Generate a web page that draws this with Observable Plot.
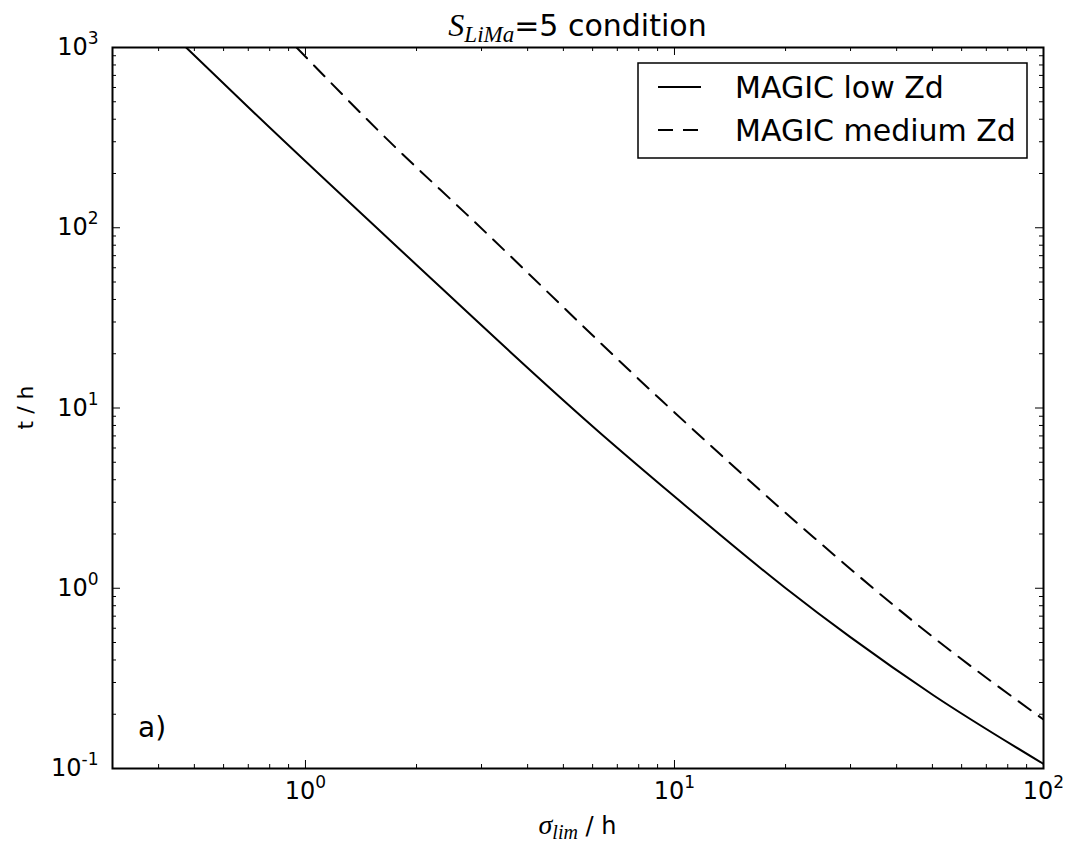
<!DOCTYPE html>
<html><head><meta charset="utf-8">
<script src="https://cdn.jsdelivr.net/npm/d3@7"></script>
<script src="https://cdn.jsdelivr.net/npm/@observablehq/plot@0.6"></script>
<style>body{margin:0;background:#fff}</style>
</head><body><div id="chart"></div>
<script>
// ---- data ----
const lowZdSigma = [0.475, 0.707, 1.80, 6.3, 9.93, 19.9, 29.9, 50.3, 100];
const lowZdT     = [1000, 457, 76, 7.25, 3.27, 1.01, 0.537, 0.255, 0.106];
const medZdSigma = [0.946, 1.748, 2.73, 9.23, 23.8, 50.3, 100];
const medZdT     = [1000, 281, 119, 11.0, 1.92, 0.534, 0.187];
const seriesNames = ["MAGIC low Zd", "MAGIC medium Zd"];
const xMajor = [1, 10, 100];
const xMinor = [0.3,0.4,0.5,0.6,0.7,0.8,0.9, 2,3,4,5,6,7,8,9, 20,30,40,50,60,70,80,90];
const yMajor = [0.1, 1, 10, 100, 1000];
const yMinor = [0.2,0.3,0.4,0.5,0.6,0.7,0.8,0.9, 2,3,4,5,6,7,8,9, 20,30,40,50,60,70,80,90, 200,300,400,500,600,700,800,900];

const lowZd = lowZdSigma.map((s, i) => ({sigma: s, t: lowZdT[i]}));
const medZd = medZdSigma.map((s, i) => ({sigma: s, t: medZdT[i]}));

// ---- layout ----
const W = 1082, H = 857, mL = 112, mR = 39, mT = 47, mB = 89;
const innerW = W - mL - mR, innerH = H - mT - mB;
const fmt = d => "10^" + Math.round(Math.log10(d));
const dash = "15,10";

const plot = Plot.plot({
  width: W, height: H,
  marginLeft: mL, marginRight: mR, marginTop: mT, marginBottom: mB,
  style: {fontFamily: "DejaVu Sans", fontSize: "24px", background: "white", color: "black"},
  x: {type: "log", domain: [0.3, 100]},
  y: {type: "log", domain: [0.1, 1000]},
  marks: [
    Plot.axisX(xMajor, {tickSize: 0, tickPadding: 13, tickFormat: fmt, label: null, fontSize: 24}),
    Plot.axisY(yMajor, {tickSize: 0, tickPadding: 14, tickFormat: fmt, label: null, fontSize: 24}),
    Plot.tickX(xMajor, {x: d => d, insetTop: innerH - 8, stroke: "black"}),
    Plot.tickX(xMajor, {x: d => d, insetBottom: innerH - 8, stroke: "black"}),
    Plot.tickX(xMinor, {x: d => d, insetTop: innerH - 4, stroke: "black"}),
    Plot.tickX(xMinor, {x: d => d, insetBottom: innerH - 4, stroke: "black"}),
    Plot.tickY(yMajor, {y: d => d, insetRight: innerW - 8, stroke: "black"}),
    Plot.tickY(yMajor, {y: d => d, insetLeft: innerW - 8, stroke: "black"}),
    Plot.tickY(yMinor, {y: d => d, insetRight: innerW - 4, stroke: "black"}),
    Plot.tickY(yMinor, {y: d => d, insetLeft: innerW - 4, stroke: "black"}),
    Plot.line(lowZd, {x: "sigma", y: "t", stroke: "black", strokeWidth: 2, curve: "monotone-x", clip: true}),
    Plot.line(medZd, {x: "sigma", y: "t", stroke: "black", strokeWidth: 2, strokeDasharray: dash, curve: "monotone-x", clip: true}),
    Plot.frame({stroke: "black", strokeWidth: 2})
  ]
});

const svg = d3.select(plot);
// superscript exponents on tick labels
svg.selectAll('g[aria-label="x-axis tick label"] text, g[aria-label="y-axis tick label"] text').each(function() {
  const m = this.textContent.match(/^10\^(.+)$/);
  if (m) {
    this.textContent = "10";
    d3.select(this).append("tspan").attr("dy", -11).attr("font-size", 17).text(m[1]);
  }
});

const serif = "'Liberation Serif', 'DejaVu Serif', serif";
// title
const title = svg.append("text").attr("x", mL + innerW / 2).attr("y", 36)
  .attr("text-anchor", "middle").attr("fill", "black");
title.append("tspan").attr("font-family", serif).attr("font-style", "italic").attr("font-size", 32).text("S");
title.append("tspan").attr("font-family", serif).attr("font-style", "italic").attr("font-size", 23).attr("dy", 6).text("LiMa");
title.append("tspan").attr("font-family", "DejaVu Sans").attr("font-size", 30).attr("dy", -6).text("=5 condition");

// x label
const xl = svg.append("text").attr("x", mL + innerW / 2).attr("y", 834)
  .attr("text-anchor", "middle").attr("fill", "black");
xl.append("tspan").attr("font-family", serif).attr("font-style", "italic").attr("font-size", 28).text("σ");
xl.append("tspan").attr("font-family", serif).attr("font-style", "italic").attr("font-size", 20).attr("dy", 5).text("lim");
xl.append("tspan").attr("font-family", "DejaVu Sans").attr("font-size", 24).attr("dy", -5).text(" / h");

// y label
svg.append("text").attr("transform", `translate(33,${mT + innerH / 2}) rotate(-90)`)
  .attr("text-anchor", "middle").attr("font-family", "DejaVu Sans").attr("font-size", 22)
  .attr("fill", "black").text("t / h");

// panel tag
svg.append("text").attr("x", 138).attr("y", 737).attr("text-anchor", "start").attr("font-family", "DejaVu Sans")
  .attr("font-size", 28).attr("fill", "black").text("a)");

// legend
const lg = svg.append("g");
lg.append("rect").attr("x", 638).attr("y", 63).attr("width", 389).attr("height", 95)
  .attr("fill", "white").attr("stroke", "black").attr("stroke-width", 1.5);
[[87, null], [130, dash]].forEach(([yy, da], i) => {
  const ln = lg.append("line").attr("x1", 658).attr("x2", 701).attr("y1", yy).attr("y2", yy)
    .attr("stroke", "black").attr("stroke-width", 2);
  if (da) ln.attr("stroke-dasharray", da);
  lg.append("text").attr("x", 735).attr("y", yy).attr("dy", "0.36em").attr("text-anchor", "start")
    .attr("font-family", "DejaVu Sans").attr("font-size", 30).attr("fill", "black").text(seriesNames[i]);
});

document.getElementById("chart").append(plot);
</script>
</body></html>
